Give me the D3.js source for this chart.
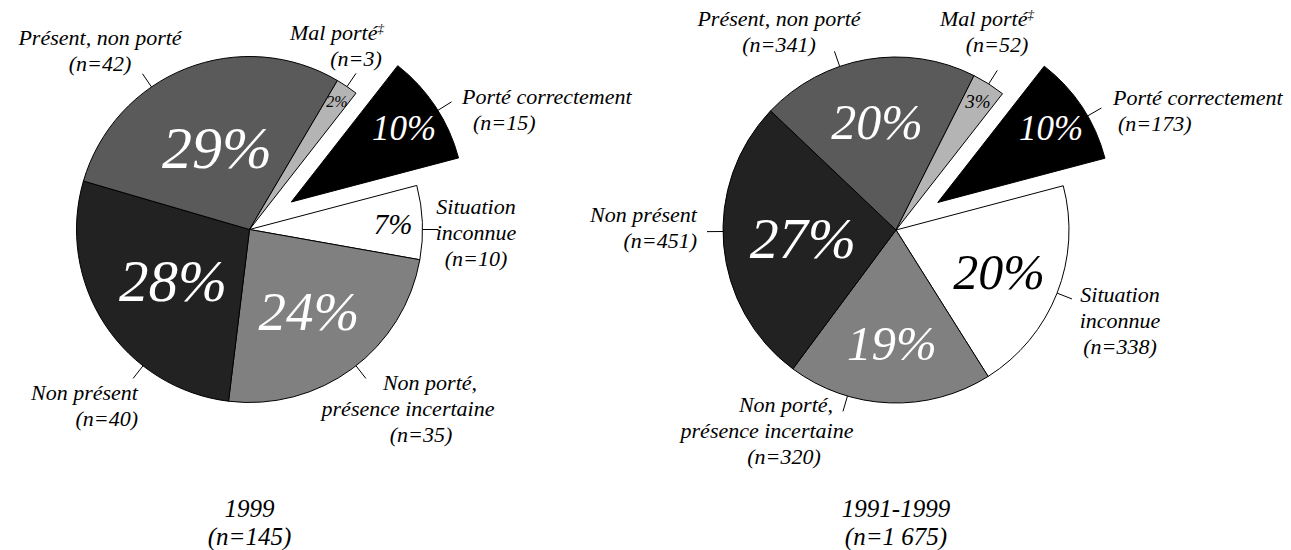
<!DOCTYPE html>
<html>
<head>
<meta charset="utf-8">
<script src="https://cdn.jsdelivr.net/npm/d3@7"></script>
<style>
  body { margin: 0; background: #fff; }
  svg text { font-family: 'Liberation Serif', serif; font-style: italic; }
</style>
</head>
<body>
<div class="pieChart"></div>
<script>
// categories, in drawing order (clockwise from the exploded slice)
const categories = ["Porté correctement", "Situation inconnue", "Non porté, présence incertaine",
    "Non présent", "Présent, non porté", "Mal porté"]
const labelLines = [["Porté correctement"], ["Situation", "inconnue"], ["Non porté,", "présence incertaine"],
    ["Non présent"], ["Présent, non porté"], ["Mal porté"]]
const counts1999 = [15, 10, 35, 40, 42, 3]
const counts1991_1999 = [173, 338, 320, 451, 341, 52]
const chartTitles = ["1999", "1991-1999"]
const chartTotals = ["(n=145)", "(n=1 675)"]
const sliceColors = ["#000000", "#ffffff", "#808080", "#222222", "#5a5a5a", "#b4b4b4"]

const width = 1291, height = 550
const radius = 173
const explode = 50
const startDeg = 38
const rad = Math.PI / 180

// where each pie sits and where its outside labels go
const layouts = [
    {
        cx: 249.5, cy: 229.5, counts: counts1999, labels: [
            {lead: 58, anchor: "start", x: [462, 473], y: 104},
            {lead: 90, anchor: "middle", x: [476, 476, 476], y: 214},
            {lead: 142, anchor: "middle", x: [430, 408, 421], y: 390},
            {lead: 218, anchor: "end", x: [138, 138], y: 400},
            {lead: 325.5, anchor: "middle", x: [100, 100], y: 45},
            {lead: 34.3, anchor: "middle", x: [337, 356], y: 40}
        ]
    },
    {
        cx: 896, cy: 230, counts: counts1991_1999, labels: [
            {lead: 60, anchor: "start", x: [1113, 1118], y: 105},
            {lead: 111.4, anchor: "middle", x: [1120, 1120, 1120], y: 302},
            {lead: 196.3, anchor: "middle", x: [786, 767, 784], y: 412},
            {lead: 269.5, anchor: "end", x: [697, 697], y: 222},
            {lead: 341, anchor: "middle", x: [779, 779], y: 26},
            {lead: 32.4, anchor: "middle", x: [987, 997], y: 26}
        ]
    }
]

const svg = d3.select('.pieChart').append('svg')
    .attr('width', width)
    .attr('height', height)

svg.append('rect').attr('width', width).attr('height', height).attr('fill', '#fff')

const pie = d3.pie()
    .sort(null)
    .value(d => d.value)
    .startAngle(startDeg * rad)
    .endAngle((startDeg + 360) * rad)

const arc = d3.arc().innerRadius(0).outerRadius(radius)
const pctSize = d3.scaleSqrt().domain([0, 29]).range([0, 60])
const lineGap = 26

// all texts go into one layer drawn after the slices
const shapes = svg.append('g').attr('class', 'shapes')
const texts = svg.append('g').attr('class', 'texts')

layouts.forEach((lay, ci) => {
    const total = d3.sum(lay.counts)
    const data = categories.map((c, i) => ({name: c, value: lay.counts[i], i: i}))
    const arcs = pie(data)

    // offset of a slice (only the first one is pulled out)
    const shift = d => {
        if (d.data.i !== 0) return [0, 0]
        const a = (d.startAngle + d.endAngle) / 2
        return [explode * Math.sin(a), -explode * Math.cos(a)]
    }
    const origin = d => [lay.cx + shift(d)[0], lay.cy + shift(d)[1]]

    const slice = shapes.selectAll('.slice' + ci)
        .data(arcs).enter()
        .append('g').attr('class', 'slice' + ci)
        .attr('transform', d => 'translate(' + origin(d) + ')')

    slice.append('path')
        .attr('d', arc)
        .attr('fill', d => sliceColors[d.data.i])
        .attr('stroke', '#000')
        .attr('stroke-width', 1)

    // leader lines
    slice.append('line')
        .attr('x1', d => radius * Math.sin(lay.labels[d.data.i].lead * rad))
        .attr('y1', d => -radius * Math.cos(lay.labels[d.data.i].lead * rad))
        .attr('x2', d => (radius + 16) * Math.sin(lay.labels[d.data.i].lead * rad))
        .attr('y2', d => -(radius + 16) * Math.cos(lay.labels[d.data.i].lead * rad))
        .attr('stroke', '#000')
        .attr('stroke-width', 1)

    // percentage inside the slice, pushed outward for the thin slices
    arcs.forEach(d => {
        const a = (d.startAngle + d.endAngle) / 2
        const r = radius * (0.93 - 0.004 * (d.endAngle - d.startAngle) / rad)
        const pct = Math.round(d.value / total * 100)
        texts.append('text')
            .attr('x', Math.round(origin(d)[0] + r * Math.sin(a)))
            .attr('y', Math.round(origin(d)[1] - r * Math.cos(a)))
            .attr('dy', '0.35em')
            .attr('text-anchor', 'middle')
            .attr('font-size', Math.round(pctSize(pct)))
            .attr('fill', d3.hsl(sliceColors[d.data.i]).l > 0.6 ? '#000' : '#fff')
            .text(pct + '%')
    })

    // outside labels
    arcs.forEach(d => {
        const lab = lay.labels[d.data.i]
        const lines = labelLines[d.data.i].concat(['(n=' + d.value + ')'])
        lines.forEach((ln, k) => {
            const t = texts.append('text')
                .attr('x', lab.x[k])
                .attr('y', lab.y + k * lineGap)
                .attr('text-anchor', lab.anchor)
                .attr('font-size', 22)
                .attr('fill', '#000')
                .text(ln)
            if (d.data.i === 5 && k === 0) {
                t.append('tspan').attr('dy', -7).attr('font-size', 13).text('‡')
            }
        })
    })

    // title under the pie
    texts.append('text').attr('x', lay.cx).attr('y', 517)
        .attr('text-anchor', 'middle').attr('font-size', 25).text(chartTitles[ci])
    texts.append('text').attr('x', lay.cx).attr('y', 545)
        .attr('text-anchor', 'middle').attr('font-size', 25).text(chartTotals[ci])
})
</script>
</body>
</html>
